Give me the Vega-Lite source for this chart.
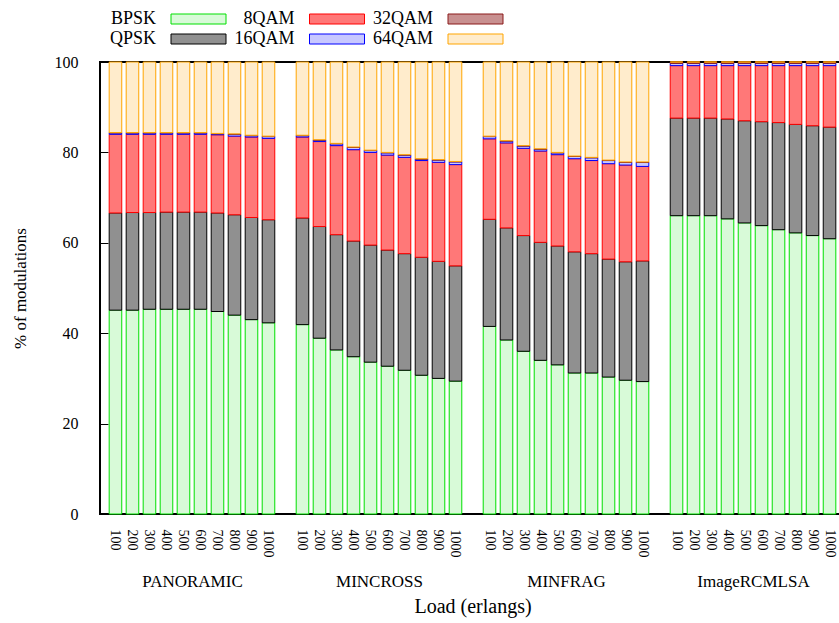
{
  "$schema": "https://vega.github.io/schema/vega-lite/v6.json",
  "width": 745,
  "height": 452,
  "autosize": "none",
  "padding": {"left": 100, "top": 62, "right": 0, "bottom": 109},
  "config": {
    "font": "Liberation Serif",
    "view": {"stroke": "#000", "strokeWidth": 2},
    "axis": {"labelColor": "#000", "titleColor": "#000", "titleFontWeight": "normal", "grid": false}
  },
  "data": {
    "values": [
      {"k": "PANORAMIC 100", "grp": "PANORAMIC", "BPSK": 45.1, "QPSK": 21.5, "8QAM": 17.4, "16QAM": 0.3, "32QAM": 0.1, "64QAM": 15.6},
      {"k": "PANORAMIC 200", "grp": "PANORAMIC", "BPSK": 45.1, "QPSK": 21.6, "8QAM": 17.3, "16QAM": 0.3, "32QAM": 0.1, "64QAM": 15.6},
      {"k": "PANORAMIC 300", "grp": "PANORAMIC", "BPSK": 45.3, "QPSK": 21.4, "8QAM": 17.3, "16QAM": 0.3, "32QAM": 0.1, "64QAM": 15.6},
      {"k": "PANORAMIC 400", "grp": "PANORAMIC", "BPSK": 45.3, "QPSK": 21.5, "8QAM": 17.2, "16QAM": 0.3, "32QAM": 0.1, "64QAM": 15.6},
      {"k": "PANORAMIC 500", "grp": "PANORAMIC", "BPSK": 45.3, "QPSK": 21.5, "8QAM": 17.2, "16QAM": 0.3, "32QAM": 0.1, "64QAM": 15.6},
      {"k": "PANORAMIC 600", "grp": "PANORAMIC", "BPSK": 45.3, "QPSK": 21.5, "8QAM": 17.2, "16QAM": 0.3, "32QAM": 0.1, "64QAM": 15.6},
      {"k": "PANORAMIC 700", "grp": "PANORAMIC", "BPSK": 44.8, "QPSK": 21.8, "8QAM": 17.3, "16QAM": 0.2, "32QAM": 0.1, "64QAM": 15.8},
      {"k": "PANORAMIC 800", "grp": "PANORAMIC", "BPSK": 44.0, "QPSK": 22.2, "8QAM": 17.4, "16QAM": 0.4, "32QAM": 0.1, "64QAM": 15.9},
      {"k": "PANORAMIC 900", "grp": "PANORAMIC", "BPSK": 43.0, "QPSK": 22.6, "8QAM": 17.8, "16QAM": 0.3, "32QAM": 0.1, "64QAM": 16.2},
      {"k": "PANORAMIC 1000", "grp": "PANORAMIC", "BPSK": 42.3, "QPSK": 22.8, "8QAM": 18.0, "16QAM": 0.4, "32QAM": 0.1, "64QAM": 16.4},
      {"k": "MINCROSS 100", "grp": "MINCROSS", "BPSK": 41.9, "QPSK": 23.6, "8QAM": 17.9, "16QAM": 0.3, "32QAM": 0.1, "64QAM": 16.2},
      {"k": "MINCROSS 200", "grp": "MINCROSS", "BPSK": 38.9, "QPSK": 24.7, "8QAM": 18.8, "16QAM": 0.3, "32QAM": 0.1, "64QAM": 17.2},
      {"k": "MINCROSS 300", "grp": "MINCROSS", "BPSK": 36.3, "QPSK": 25.5, "8QAM": 19.7, "16QAM": 0.4, "32QAM": 0.1, "64QAM": 18.0},
      {"k": "MINCROSS 400", "grp": "MINCROSS", "BPSK": 34.8, "QPSK": 25.6, "8QAM": 20.2, "16QAM": 0.5, "32QAM": 0.1, "64QAM": 18.8},
      {"k": "MINCROSS 500", "grp": "MINCROSS", "BPSK": 33.6, "QPSK": 25.9, "8QAM": 20.5, "16QAM": 0.4, "32QAM": 0.1, "64QAM": 19.5},
      {"k": "MINCROSS 600", "grp": "MINCROSS", "BPSK": 32.7, "QPSK": 25.7, "8QAM": 21.0, "16QAM": 0.5, "32QAM": 0.1, "64QAM": 20.0},
      {"k": "MINCROSS 700", "grp": "MINCROSS", "BPSK": 31.8, "QPSK": 25.8, "8QAM": 21.3, "16QAM": 0.5, "32QAM": 0.1, "64QAM": 20.5},
      {"k": "MINCROSS 800", "grp": "MINCROSS", "BPSK": 30.7, "QPSK": 26.1, "8QAM": 21.4, "16QAM": 0.3, "32QAM": 0.1, "64QAM": 21.4},
      {"k": "MINCROSS 900", "grp": "MINCROSS", "BPSK": 30.0, "QPSK": 25.9, "8QAM": 21.9, "16QAM": 0.5, "32QAM": 0.1, "64QAM": 21.6},
      {"k": "MINCROSS 1000", "grp": "MINCROSS", "BPSK": 29.4, "QPSK": 25.5, "8QAM": 22.4, "16QAM": 0.6, "32QAM": 0.1, "64QAM": 22.0},
      {"k": "MINFRAG 100", "grp": "MINFRAG", "BPSK": 41.5, "QPSK": 23.7, "8QAM": 17.8, "16QAM": 0.5, "32QAM": 0.1, "64QAM": 16.4},
      {"k": "MINFRAG 200", "grp": "MINFRAG", "BPSK": 38.5, "QPSK": 24.8, "8QAM": 18.8, "16QAM": 0.4, "32QAM": 0.1, "64QAM": 17.4},
      {"k": "MINFRAG 300", "grp": "MINFRAG", "BPSK": 36.0, "QPSK": 25.6, "8QAM": 19.3, "16QAM": 0.5, "32QAM": 0.1, "64QAM": 18.5},
      {"k": "MINFRAG 400", "grp": "MINFRAG", "BPSK": 34.0, "QPSK": 26.1, "8QAM": 20.2, "16QAM": 0.4, "32QAM": 0.1, "64QAM": 19.2},
      {"k": "MINFRAG 500", "grp": "MINFRAG", "BPSK": 33.0, "QPSK": 26.3, "8QAM": 20.2, "16QAM": 0.4, "32QAM": 0.1, "64QAM": 20.0},
      {"k": "MINFRAG 600", "grp": "MINFRAG", "BPSK": 31.2, "QPSK": 26.8, "8QAM": 20.6, "16QAM": 0.5, "32QAM": 0.1, "64QAM": 20.8},
      {"k": "MINFRAG 700", "grp": "MINFRAG", "BPSK": 31.2, "QPSK": 26.4, "8QAM": 20.6, "16QAM": 0.6, "32QAM": 0.1, "64QAM": 21.1},
      {"k": "MINFRAG 800", "grp": "MINFRAG", "BPSK": 30.3, "QPSK": 26.1, "8QAM": 21.1, "16QAM": 0.7, "32QAM": 0.1, "64QAM": 21.7},
      {"k": "MINFRAG 900", "grp": "MINFRAG", "BPSK": 29.6, "QPSK": 26.2, "8QAM": 21.4, "16QAM": 0.6, "32QAM": 0.1, "64QAM": 22.1},
      {"k": "MINFRAG 1000", "grp": "MINFRAG", "BPSK": 29.3, "QPSK": 26.7, "8QAM": 20.9, "16QAM": 0.9, "32QAM": 0.1, "64QAM": 22.1},
      {"k": "ImageRCMLSA 100", "grp": "ImageRCMLSA", "BPSK": 66.0, "QPSK": 21.6, "8QAM": 11.6, "16QAM": 0.5, "32QAM": 0.3, "64QAM": 0.0},
      {"k": "ImageRCMLSA 200", "grp": "ImageRCMLSA", "BPSK": 66.0, "QPSK": 21.6, "8QAM": 11.6, "16QAM": 0.5, "32QAM": 0.3, "64QAM": 0.0},
      {"k": "ImageRCMLSA 300", "grp": "ImageRCMLSA", "BPSK": 66.0, "QPSK": 21.6, "8QAM": 11.6, "16QAM": 0.5, "32QAM": 0.3, "64QAM": 0.0},
      {"k": "ImageRCMLSA 400", "grp": "ImageRCMLSA", "BPSK": 65.3, "QPSK": 22.1, "8QAM": 11.8, "16QAM": 0.5, "32QAM": 0.3, "64QAM": 0.0},
      {"k": "ImageRCMLSA 500", "grp": "ImageRCMLSA", "BPSK": 64.4, "QPSK": 22.6, "8QAM": 12.2, "16QAM": 0.5, "32QAM": 0.3, "64QAM": 0.0},
      {"k": "ImageRCMLSA 600", "grp": "ImageRCMLSA", "BPSK": 63.8, "QPSK": 23.0, "8QAM": 12.4, "16QAM": 0.5, "32QAM": 0.3, "64QAM": 0.0},
      {"k": "ImageRCMLSA 700", "grp": "ImageRCMLSA", "BPSK": 62.9, "QPSK": 23.7, "8QAM": 12.6, "16QAM": 0.5, "32QAM": 0.3, "64QAM": 0.0},
      {"k": "ImageRCMLSA 800", "grp": "ImageRCMLSA", "BPSK": 62.2, "QPSK": 24.0, "8QAM": 13.0, "16QAM": 0.5, "32QAM": 0.3, "64QAM": 0.0},
      {"k": "ImageRCMLSA 900", "grp": "ImageRCMLSA", "BPSK": 61.6, "QPSK": 24.3, "8QAM": 13.3, "16QAM": 0.5, "32QAM": 0.3, "64QAM": 0.0},
      {"k": "ImageRCMLSA 1000", "grp": "ImageRCMLSA", "BPSK": 60.9, "QPSK": 24.7, "8QAM": 13.6, "16QAM": 0.5, "32QAM": 0.3, "64QAM": 0.0}
    ]
  },
  "layer": [
    {
      "transform": [
        {"fold": ["BPSK", "QPSK", "8QAM", "16QAM", "32QAM", "64QAM"], "as": ["mod", "pct"]},
        {"calculate": "indexof(['BPSK', 'QPSK', '8QAM', '16QAM', '32QAM', '64QAM'], datum.mod)", "as": "ord"}
      ],
      "mark": {"type": "bar", "strokeWidth": 1},
      "encoding": {
        "x": {
          "field": "k", "type": "nominal",
          "scale": {
            "domain": ["PANORAMIC 100","PANORAMIC 200","PANORAMIC 300","PANORAMIC 400","PANORAMIC 500","PANORAMIC 600","PANORAMIC 700","PANORAMIC 800","PANORAMIC 900","PANORAMIC 1000","gap1",
                       "MINCROSS 100","MINCROSS 200","MINCROSS 300","MINCROSS 400","MINCROSS 500","MINCROSS 600","MINCROSS 700","MINCROSS 800","MINCROSS 900","MINCROSS 1000","gap2",
                       "MINFRAG 100","MINFRAG 200","MINFRAG 300","MINFRAG 400","MINFRAG 500","MINFRAG 600","MINFRAG 700","MINFRAG 800","MINFRAG 900","MINFRAG 1000","gap3",
                       "ImageRCMLSA 100","ImageRCMLSA 200","ImageRCMLSA 300","ImageRCMLSA 400","ImageRCMLSA 500","ImageRCMLSA 600","ImageRCMLSA 700","ImageRCMLSA 800","ImageRCMLSA 900","ImageRCMLSA 1000"],
            "paddingInner": 0.26, "paddingOuter": 0.54
          },
          "axis": {
            "title": null, "orient": "bottom", "ticks": false, "domain": false,
            "labelAngle": 90, "labelAlign": "left", "labelBaseline": "middle",
            "labelPadding": 15, "labelFontSize": 14,
            "labelExpr": "length(split(datum.label, ' ')) > 1 ? split(datum.label, ' ')[1] : ''"
          }
        },
        "y": {
          "field": "pct", "type": "quantitative", "stack": "zero",
          "scale": {"domain": [0, 100], "nice": false},
          "axis": {
            "title": "% of modulations", "titleFontSize": 17, "titlePadding": 25,
            "values": [0, 20, 40, 60, 80, 100], "labelFontSize": 16,
            "tickSize": -8, "tickColor": "#000", "tickWidth": 1, "domain": false,
            "labelPadding": 30
          }
        },
        "order": {"field": "ord", "type": "quantitative", "sort": "ascending"},
        "fill": {
          "field": "mod", "type": "nominal",
          "scale": {
            "domain": ["BPSK", "QPSK", "8QAM", "16QAM", "32QAM", "64QAM"],
            "range": ["#d8fad8", "#909090", "#ff7878", "#c8c8ff", "#c89090", "#ffeccc"]
          },
          "legend": {
            "orient": "none", "legendX": -8, "legendY": -52,
            "title": null, "direction": "horizontal", "columns": 3,
            "values": ["BPSK", "8QAM", "32QAM", "QPSK", "16QAM", "64QAM"],
            "symbolType": "M-5.5,-1L5.5,-1L5.5,1L-5.5,1Z",
            "symbolSize": 100, "symbolStrokeWidth": 1,
            "symbolOffset": 97.5,
            "labelAlign": "right", "labelOffset": -51.5,
            "labelFontSize": 18, "labelColor": "#000",
            "columnPadding": 2.5, "rowPadding": 2, "gridAlign": "all"
          }
        },
        "stroke": {
          "field": "mod", "type": "nominal",
          "scale": {
            "domain": ["BPSK", "QPSK", "8QAM", "16QAM", "32QAM", "64QAM"],
            "range": ["#00e000", "#000000", "#ff0000", "#0000ff", "#8b1a1a", "#ffa500"]
          }
        }
      }
    },
    {
      "mark": {"type": "rule", "opacity": 0},
      "encoding": {
        "x": {
          "field": "grp", "type": "nominal",
          "scale": {"type": "point", "domain": ["PANORAMIC", "MINCROSS", "MINFRAG", "ImageRCMLSA"], "padding": 0.492},
          "axis": {
            "orient": "bottom", "ticks": false, "domain": false, "labelAngle": 0,
            "labelPadding": 59, "labelFontSize": 17, "labelBaseline": "top",
            "title": "Load (erlangs)", "titleFontSize": 20, "titlePadding": 7
          }
        }
      }
    }
  ],
  "resolve": {"scale": {"x": "independent"}, "axis": {"x": "independent"}}
}
